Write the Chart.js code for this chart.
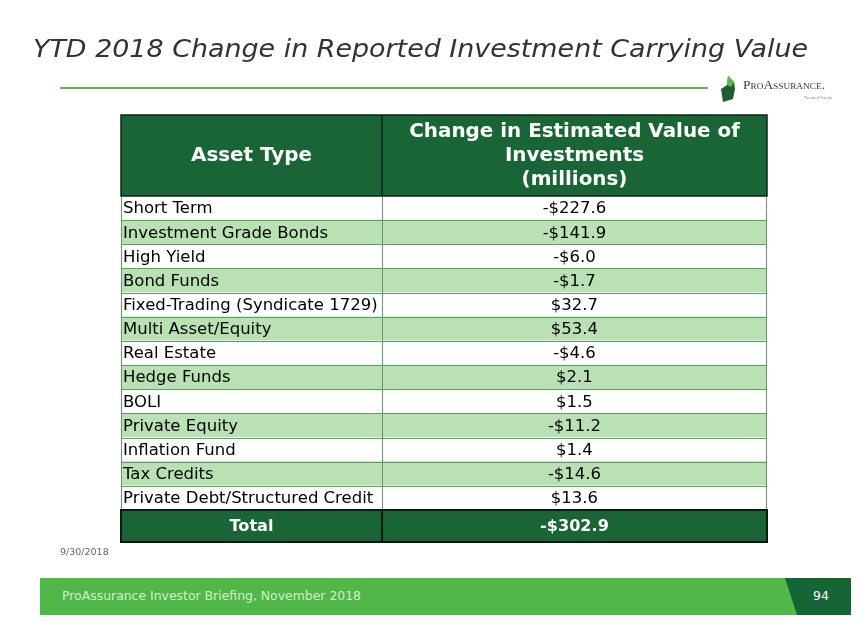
<!DOCTYPE html>
<html><head><meta charset="utf-8">
<script src="https://cdn.jsdelivr.net/npm/chart.js@4.4.1/dist/chart.umd.min.js"></script>
<style>
html,body{margin:0;padding:0;background:#fff}
body{width:867px;height:635px;position:relative;overflow:hidden;font-family:"DejaVu Sans",Verdana,sans-serif}
#c{position:absolute;left:0;top:0}
.title{position:absolute;left:33px;top:34px;font-style:italic;font-size:25px;color:#333;white-space:nowrap;transform-origin:0 0;line-height:30px}
.rule{position:absolute;left:60px;top:87px;width:648px;height:2px;background:#5cb94a}
.logo{position:absolute;left:720px;top:74px;width:130px;height:30px}
.logo .name{position:absolute;left:23px;top:3px;font-family:"Liberation Serif",serif;font-size:13px;color:#3a3a3a;font-variant:small-caps;white-space:nowrap;transform-origin:0 0}
.logo .tag{position:absolute;left:84px;top:21px;font-family:"Liberation Serif",serif;font-size:5px;color:#888;white-space:nowrap}
.date{position:absolute;left:60px;top:546px;font-size:9.5px;color:#666}
.footer{position:absolute;left:40px;top:578px;width:811px;height:37px;background:#4fb849}
.footer .txt{position:absolute;left:22px;top:10px;font-size:12.5px;color:#d6efc8;white-space:nowrap;transform-origin:0 0}
.footer svg{position:absolute;left:0;top:0}
.footer .pg{position:absolute;left:773px;top:10px;font-size:12.5px;color:#fff}
</style>
</head><body>
<canvas id="c" width="867" height="635"></canvas>
<div class="title" id="title">YTD 2018 Change in Reported Investment Carrying Value</div>
<div class="rule"></div>
<div class="logo">
  <svg width="16" height="28" style="position:absolute;left:1px;top:2px"><polygon points="7,0 13,6 14,13 12,23 2,26 0,13 6,9" fill="#1f5e32"/><polygon points="7,0 13,6 10,11 6,9" fill="#5cb94a"/></svg>
  <div class="name" id="lname">ProAssurance.</div>
  <div class="tag">Treated Fairly</div>
</div>
<div class="date">9/30/2018</div>
<div class="footer">
  <svg width="811" height="37"><polygon points="745,0 811,0 811,37 757,37" fill="#166536"/></svg>
  <div class="txt" id="ftxt">ProAssurance Investor Briefing, November 2018</div>
  <div class="pg">94</div>
</div>
<script>
// ---- data ----
const assetTypes = ["Short Term","Investment Grade Bonds","High Yield","Bond Funds","Fixed-Trading (Syndicate 1729)","Multi Asset/Equity","Real Estate","Hedge Funds","BOLI","Private Equity","Inflation Fund","Tax Credits","Private Debt/Structured Credit"];
const changeValues = [-227.6,-141.9,-6.0,-1.7,32.7,53.4,-4.6,2.1,1.5,-11.2,1.4,-14.6,13.6];
const headerAsset = "Asset Type";
const headerValue = ["Change in Estimated Value of","Investments","(millions)"];
const totalLabel = "Total";
const totalValue = -302.9;

// ---- style ----
const DARK = "#1a6535", LIGHT = "#bae1b4", GRID = "#5e9e63";
const FONT = '"DejaVu Sans", Verdana, sans-serif';
const DIVIDER = 0.404;          // fraction of table width for first column
const HEADER_H = 81, TOTAL_H = 32;

function fmt(v){ return (v < 0 ? "-$" : "$") + Math.abs(v).toFixed(1); }
function fitSize(ctx, weight, text, target){
  ctx.font = weight + " 20px " + FONT;
  return 20 * target / ctx.measureText(text).width;
}

const tablePlugin = {
  id: "tablePlugin",
  afterDatasetsDraw(chart){
    const ctx = chart.ctx, x = chart.scales.x, y = chart.scales.y;
    const L = x.getPixelForValue(0), R = x.getPixelForValue(1), D = x.getPixelForValue(DIVIDER);
    const step = y.getPixelForValue(1) - y.getPixelForValue(0);
    const top = y.getPixelForValue(0) - step/2;
    const bottom = y.getPixelForValue(assetTypes.length-1) + step/2;
    const c1 = (L + D)/2, c2 = (D + R)/2;
    ctx.save();
    // grid lines body
    ctx.strokeStyle = GRID; ctx.lineWidth = 1;
    assetTypes.forEach((_, i) => {
      const yb = Math.round(y.getPixelForValue(i) + step/2) + 0.5;
      ctx.beginPath(); ctx.moveTo(L, yb); ctx.lineTo(R, yb); ctx.stroke();
    });
    ctx.beginPath();
    ctx.moveTo(Math.round(L)+0.5, top); ctx.lineTo(Math.round(L)+0.5, bottom);
    ctx.moveTo(Math.round(D)+0.5, top); ctx.lineTo(Math.round(D)+0.5, bottom);
    ctx.moveTo(Math.round(R)-0.5, top); ctx.lineTo(Math.round(R)-0.5, bottom);
    ctx.stroke();
    // body text
    ctx.fillStyle = "#000"; ctx.font = "16.5px " + FONT; ctx.textBaseline = "middle";
    assetTypes.forEach((lab, i) => {
      const cy = y.getPixelForValue(i) + 1;
      ctx.textAlign = "left"; ctx.fillText(lab, L + 2, cy);
      ctx.textAlign = "center"; ctx.fillText(fmt(changeValues[i]), c2, cy);
    });
    // header
    const ht = top - HEADER_H;
    ctx.fillStyle = DARK; ctx.fillRect(L, ht, R - L, HEADER_H);
    ctx.strokeStyle = "#0c2414"; ctx.lineWidth = 1.5;
    ctx.strokeRect(L, ht, R - L, HEADER_H);
    ctx.beginPath(); ctx.moveTo(D, ht); ctx.lineTo(D, top); ctx.stroke();
    const hs = fitSize(ctx, "bold", headerValue[0], 331);
    ctx.fillStyle = "#fff"; ctx.font = "bold " + hs + "px " + FONT; ctx.textAlign = "center";
    ctx.fillText(headerAsset, c1, ht + 41);
    headerValue.forEach((t, k) => ctx.fillText(t, c2, ht + 17 + k*24));
    // total row
    ctx.fillStyle = DARK; ctx.fillRect(L, bottom, R - L, TOTAL_H);
    ctx.strokeStyle = "#0a1a0f"; ctx.lineWidth = 2;
    ctx.strokeRect(L, bottom, R - L, TOTAL_H);
    ctx.beginPath(); ctx.moveTo(D, bottom); ctx.lineTo(D, bottom + TOTAL_H); ctx.stroke();
    const ts = fitSize(ctx, "bold", totalLabel, 44);
    ctx.fillStyle = "#fff"; ctx.font = "bold " + ts + "px " + FONT;
    ctx.fillText(totalLabel, c1, bottom + TOTAL_H/2 + 1);
    ctx.fillText(fmt(totalValue), c2, bottom + TOTAL_H/2 + 1);
    ctx.restore();
  }
};

new Chart(document.getElementById("c"), {
  type: "bar",
  data: {
    labels: assetTypes,
    datasets: [{
      data: assetTypes.map(() => [0, 1]),
      backgroundColor: assetTypes.map((_, i) => i % 2 ? LIGHT : "#ffffff"),
      borderWidth: 0, barPercentage: 1, categoryPercentage: 1
    }]
  },
  options: {
    indexAxis: "y", responsive: false, animation: false,
    layout: { padding: { left: 121, right: 100, top: 196, bottom: 125 } },
    scales: {
      x: { type: "linear", min: 0, max: 1, display: false },
      y: { display: false }
    },
    plugins: { legend: { display: false }, tooltip: { enabled: false } }
  },
  plugins: [tablePlugin]
});

// fit title, logo and footer text widths
(function(){
  function fit(id, target){
    const el = document.getElementById(id);
    const w = el.getBoundingClientRect().width;
    el.style.transform = "scaleX(" + (target / w) + ")";
  }
  fit("title", 775);
  fit("ftxt", 299);
  fit("lname", 82);
})();
</script>
</body></html>
